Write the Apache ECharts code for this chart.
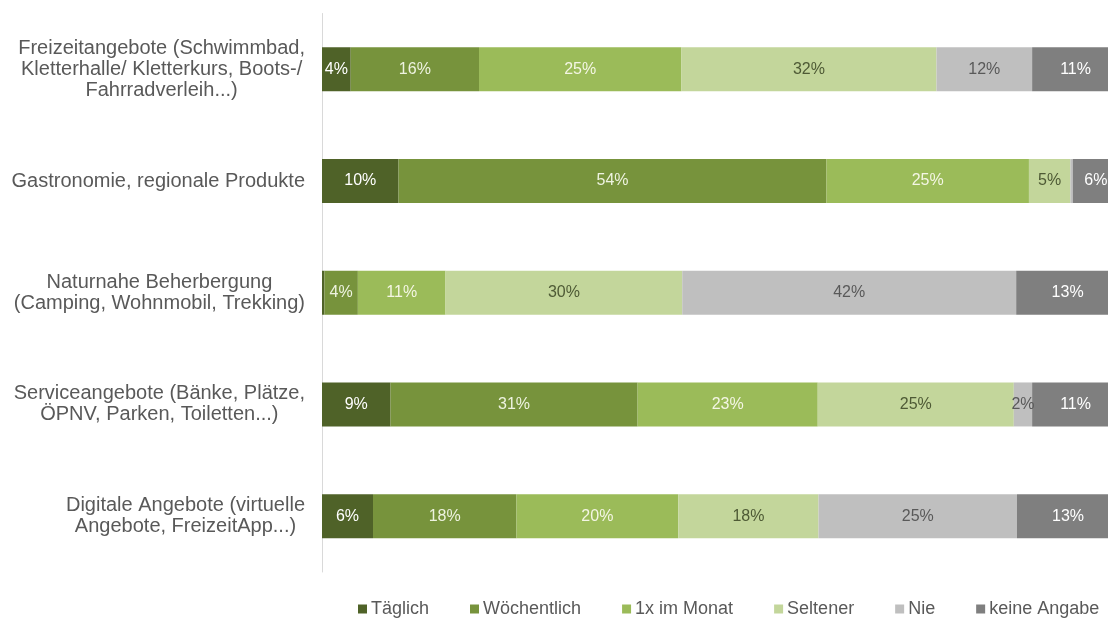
<!DOCTYPE html>
<html>
<head>
<meta charset="utf-8">
<script src="https://cdn.jsdelivr.net/npm/echarts@6/dist/echarts.min.js"></script>
<style>html,body{margin:0;padding:0;background:#fff;overflow:hidden;width:1108px;height:618px}#c{width:1130px;height:618px}</style>
</head>
<body>
<div id="c"></div>
<script>
const categories = [
  "Freizeitangebote (Schwimmbad,\nKletterhalle/ Kletterkurs, Boots-/\nFahrradverleih...)",
  "Gastronomie, regionale Produkte",
  "Naturnahe Beherbergung\n(Camping, Wohnmobil, Trekking)",
  "Serviceangebote (Bänke, Plätze,\nÖPNV, Parken, Toiletten...)",
  "Digitale Angebote (virtuelle\nAngebote, FreizeitApp...)"
];
const seriesNames = ["Täglich", "Wöchentlich", "1x im Monat", "Seltener", "Nie", "keine Angabe"];
const taeglich    = [3.6, 9.6, 0.3, 8.6, 6.4];
const woechentlich= [16.1, 53.7, 4.2, 31.0, 18.0];
const monatlich   = [25.4, 25.4, 11.0, 22.6, 20.3];
const seltener    = [32.0, 5.2, 29.7, 24.6, 17.6];
const nie         = [12.0, 0.3, 41.9, 2.3, 24.9];
const keineAngabe = [10.9, 5.8, 12.9, 10.9, 12.8];

const values = [taeglich, woechentlich, monatlich, seltener, nie, keineAngabe];
const colors = ["#4f6228", "#77933c", "#9bbb59", "#c3d69b", "#bfbfbf", "#7f7f7f"];
const labelColors = ["#ffffff", "#eef3e0", "#f4f6e4", "#4e5a35", "#595959", "#ffffff"];

const chart = echarts.init(document.getElementById('c'), null, {renderer: 'canvas'});
chart.setOption({
  animation: false,
  backgroundColor: '#ffffff',
  textStyle: {fontFamily: '"Liberation Sans", Arial, sans-serif'},
  grid: {left: 322, top: 13.5, height: 558.5, width: 797, containLabel: false},
  xAxis: {type: 'value', min: 0, max: 100, show: false},
  yAxis: {
    type: 'category', data: categories, inverse: true,
    axisLine: {show: true, lineStyle: {color: '#d9d9d9', width: 1}},
    axisTick: {show: false},
    axisLabel: {
      margin: 17,
      formatter: function (v) { return v.split('\n').map(function (l) { return '{c|' + l + '}'; }).join('\n'); },
      rich: {c: {align: 'center', fontSize: 20, lineHeight: 21, color: '#595959', fontFamily: '"Liberation Sans", Arial, sans-serif'}}
    }
  },
  legend: {
    data: seriesNames, left: 353, top: 595, icon: 'rect', itemWidth: 9, itemHeight: 9, itemGap: 41,
    textStyle: {color: '#595959', fontSize: 18, padding: [0, 0, 0, -1]}
  },
  series: seriesNames.map(function (name, i) {
    return {
      name: name, type: 'bar', stack: 'total', barWidth: 44,
      itemStyle: {color: colors[i]},
      label: {
        show: true, position: 'inside', fontSize: 16, color: labelColors[i],
        formatter: function (p) { var r = Math.round(p.value); return r > 0 ? r + '%' : ''; }
      },
      data: values[i]
    };
  })
});
</script>
</body>
</html>
